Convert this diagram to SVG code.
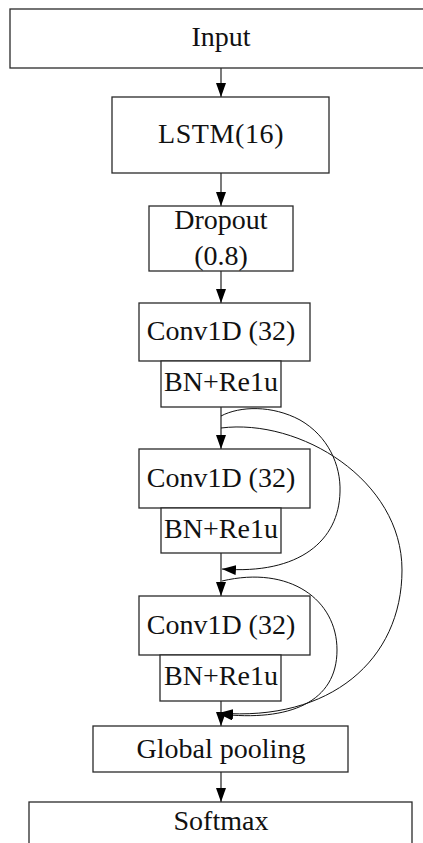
<svg xmlns="http://www.w3.org/2000/svg" width="423" height="843" viewBox="0 0 423 843">
  <style>
    .box { fill: #ffffff; stroke: #2a2a2a; stroke-width: 1.3; }
    .lbl { font-family: "Liberation Serif", "Times New Roman", serif; font-size: 28px; fill: #111; text-anchor: middle; }
    .flow { fill: none; stroke: #222; stroke-width: 1.2; marker-end: url(#head); }
    .skip { fill: none; stroke: #111; stroke-width: 1; marker-end: url(#head); }
  </style>
  <defs>
    <marker id="head" viewBox="0 0 14 10" refX="14" refY="5" markerWidth="14" markerHeight="10" markerUnits="userSpaceOnUse" orient="auto">
      <path d="M0,0 L14,5 L0,10 Z" fill="#000"/>
    </marker>
  </defs>
  <rect width="423" height="843" fill="#ffffff"/>

  <g id="connectors">
    <line class="flow" x1="221" y1="68" x2="221" y2="97"/>
    <line class="flow" x1="221" y1="173" x2="221" y2="206"/>
    <line class="flow" x1="221" y1="271" x2="221" y2="303"/>
    <line class="flow" x1="221" y1="407" x2="221" y2="449"/>
    <line class="flow" x1="221" y1="553" x2="221" y2="596"/>
    <line class="flow" x1="221" y1="701" x2="221" y2="726"/>
    <line class="flow" x1="221" y1="772" x2="221" y2="802"/>
    <!-- residual skips -->
    <path class="skip" d="M221,416 C240,406 272,405 300,420 C328,436 341,465 340,492 C339,540 300,575 222,569"/>
    <path class="skip" d="M221,428 C300,418 402,480 402,570 C402,660 330,722 219,713"/>
    <path class="skip" d="M222,581 C290,565 337,600 337,650 C337,702 290,722 219,714"/>
  </g>

  <g id="input"><rect class="box" x="10" y="9" width="420" height="59"/><text class="lbl" x="221" y="46">Input</text></g>
  <g id="lstm"><rect class="box" x="112" y="97" width="217" height="76"/><text class="lbl" x="221" y="143" letter-spacing="0.6">LSTM(16)</text></g>
  <g id="dropout"><rect class="box" x="149" y="206" width="144" height="65"/><text class="lbl" x="221" y="229">Dropout</text><text class="lbl" x="221" y="265">(0.8)</text></g>
  <g id="conv1"><rect class="box" x="139" y="303" width="171" height="58"/><text class="lbl" x="221" y="340">Conv1D (32)</text></g>
  <g id="bn1"><rect class="box" x="161" y="361" width="120" height="46"/><text class="lbl" x="221" y="391">BN+Re1u</text></g>
  <g id="conv2"><rect class="box" x="139" y="449" width="171" height="59"/><text class="lbl" x="221" y="487">Conv1D (32)</text></g>
  <g id="bn2"><rect class="box" x="161" y="508" width="120" height="45"/><text class="lbl" x="221" y="538">BN+Re1u</text></g>
  <g id="conv3"><rect class="box" x="139" y="596" width="171" height="59"/><text class="lbl" x="221" y="634">Conv1D (32)</text></g>
  <g id="bn3"><rect class="box" x="160" y="655" width="121" height="46"/><text class="lbl" x="221" y="685">BN+Re1u</text></g>
  <g id="pooling"><rect class="box" x="93" y="726" width="255" height="46"/><text class="lbl" x="221" y="758">Global pooling</text></g>
  <g id="softmax"><rect class="box" x="29" y="802" width="383" height="60"/><text class="lbl" x="221" y="830">Softmax</text></g>
</svg>
